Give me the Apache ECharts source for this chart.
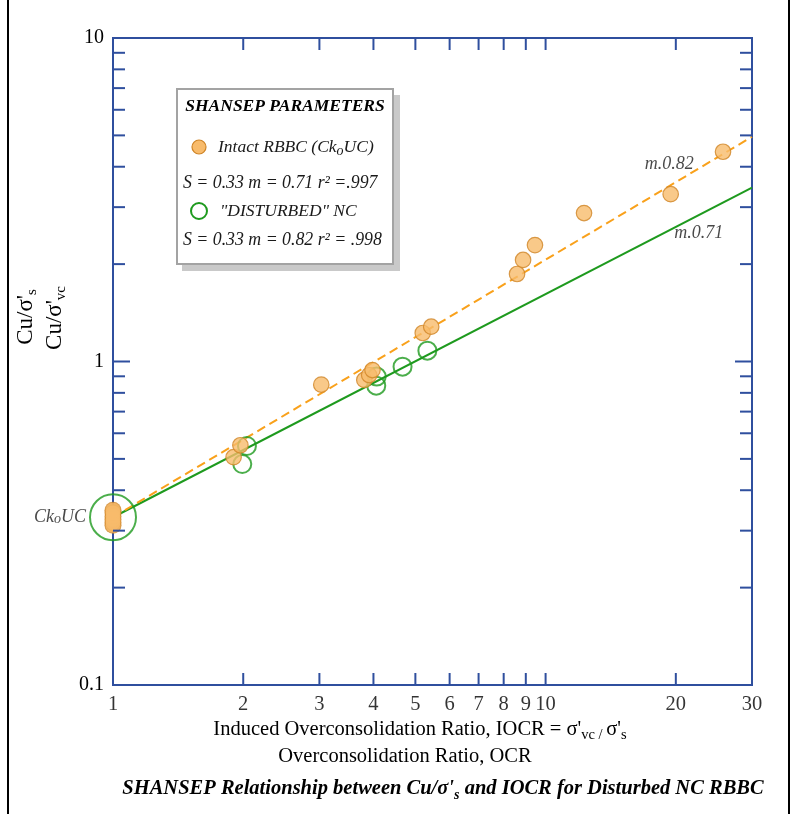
<!DOCTYPE html>
<html><head><meta charset="utf-8">
<script src="https://cdn.jsdelivr.net/npm/echarts@6/dist/echarts.min.js"></script>
<style>html,body{margin:0;padding:0;background:#fff}#c{width:795px;height:814px}</style>
</head><body><div id="c"></div>
<script>
// ---- data ----
const intactIOCR = [1.90, 1.97, 3.03, 3.81, 3.91, 3.98, 5.20, 5.44, 8.59, 8.87, 9.45, 12.27, 19.46, 25.71];
const intactCu   = [0.506, 0.551, 0.848, 0.877, 0.908, 0.941, 1.225, 1.281, 1.864, 2.06, 2.29, 2.877, 3.29, 4.45];
const ckoucIOCR  = [1, 1, 1, 1, 1, 1];
const ckoucCu    = [0.312, 0.318, 0.325, 0.332, 0.340, 0.347];
const disturbedIOCR = [1.99, 2.04, 4.06, 4.07, 4.67, 5.33];
const disturbedCu   = [0.482, 0.548, 0.842, 0.898, 0.964, 1.08];
const ncIOCR = [1];
const ncCu   = [0.33];
const fitIntactIOCR = [1, 30];
const fitIntactCu   = [0.33, 4.95];
const fitDistIOCR   = [1, 30];
const fitDistCu     = [0.33, 3.45];
const annotIOCR  = [19.3, 22.6];
const annotCu    = [4.08, 2.49];
const annotText  = ['m.0.82', 'm.0.71'];
const xMin = 1, xMax = 30, yMin = 0.1, yMax = 10;
const xTickValues  = [2, 3, 4, 5, 6, 7, 8, 9, 10, 20];
const xLabelValues = [1, 2, 3, 4, 5, 6, 7, 8, 9, 10, 20, 30];
const yTickValues  = [0.2, 0.3, 0.4, 0.5, 0.6, 0.7, 0.8, 0.9, 1, 2, 3, 4, 5, 6, 7, 8, 9];
const yMajorTicks  = [1];

// ---- styles ----
const AX = '#2f4f9e';
const SERIF = '"Liberation Serif", "DejaVu Serif", serif';
const ORANGE_FILL = '#F8BB6B', ORANGE_EDGE = '#CF8426', ORANGE_LINE = '#F9A11B';
const GREEN = '#1E9A1E';
const TXT = '#000';

const zip = (a, b) => a.map((v, i) => [v, b[i]]);
const chart = echarts.init(document.getElementById('c'), null, {renderer: 'canvas'});

const subStyle = (size, extra) => Object.assign({fontFamily: SERIF, fontSize: size, lineHeight: size, verticalAlign: 'bottom', fill: TXT, color: TXT}, extra || {});

const option = {
  animation: false,
  backgroundColor: '#fff',
  grid: {left: 113, top: 38, right: 43, bottom: 129, show: true, borderColor: AX, borderWidth: 2,
         backgroundColor: 'transparent', outerBoundsMode: 'none'},
  xAxis: {type: 'log', logBase: 10, min: xMin, max: xMax,
          axisLine: {show: false}, axisTick: {show: false}, axisLabel: {show: false}, splitLine: {show: false}},
  yAxis: {type: 'log', logBase: 10, min: yMin, max: yMax,
          axisLine: {show: false}, axisTick: {show: false}, splitLine: {show: false},
          axisLabel: {show: true, margin: 9, color: TXT, fontFamily: SERIF, fontSize: 20,
                      formatter: v => String(+Number(v).toPrecision(3))}},
  series: [
    { // x ticks (bottom & top, inward)
      type: 'custom', silent: true, z: 6,
      data: xTickValues.map(v => [v, yMin]),
      renderItem: (p, api) => {
        const v = api.value(0);
        const b = api.coord([v, yMin]), t = api.coord([v, yMax]);
        return {type: 'group', children: [
          {type: 'line', shape: {x1: b[0], y1: b[1], x2: b[0], y2: b[1] - 12}, style: {stroke: AX, lineWidth: 2}},
          {type: 'line', shape: {x1: t[0], y1: t[1], x2: t[0], y2: t[1] + 12}, style: {stroke: AX, lineWidth: 2}}
        ]};
      }
    },
    { // y ticks (left & right, inward)
      type: 'custom', silent: true, z: 6,
      data: yTickValues.map(v => [xMin, v]),
      renderItem: (p, api) => {
        const v = api.value(1);
        const len = yMajorTicks.indexOf(v) >= 0 ? 17 : 12;
        const l = api.coord([xMin, v]), r = api.coord([xMax, v]);
        return {type: 'group', children: [
          {type: 'line', shape: {x1: l[0], y1: l[1], x2: l[0] + len, y2: l[1]}, style: {stroke: AX, lineWidth: 2}},
          {type: 'line', shape: {x1: r[0], y1: r[1], x2: r[0] - len, y2: r[1]}, style: {stroke: AX, lineWidth: 2}}
        ]};
      }
    },
    { // x tick labels
      type: 'scatter', silent: true, symbolSize: 0, clip: false,
      data: xLabelValues.map(v => [v, yMin]),
      label: {show: true, position: 'bottom', distance: 9, color: TXT, fontFamily: SERIF, fontSize: 20.5,
              formatter: p => String(p.value[0])}
    },
    { // fit line DISTURBED (solid green)
      type: 'line', name: 'fitDist', data: zip(fitDistIOCR, fitDistCu), showSymbol: false, silent: true, z: 2,
      lineStyle: {color: GREEN, width: 2}
    },
    { // fit line intact (dashed orange)
      type: 'line', name: 'fitIntact', data: zip(fitIntactIOCR, fitIntactCu), showSymbol: false, silent: true, z: 2,
      lineStyle: {color: ORANGE_LINE, width: 2, type: [9, 5]}
    },
    { // big NC circle
      type: 'scatter', name: 'NC', data: zip(ncIOCR, ncCu), symbol: 'circle', symbolSize: 46, z: 3, clip: false,
      itemStyle: {color: 'rgba(0,0,0,0)', borderColor: GREEN, borderWidth: 2},
      label: {show: true, position: 'left', distance: 3, color: '#1a1a1a', fontFamily: SERIF, fontStyle: 'italic', fontSize: 18,
              formatter: 'Ck{sub|o}UC',
              rich: {sub: subStyle(14, {fontStyle: 'italic', color: '#1a1a1a', lineHeight: 13})}}
    },
    { // disturbed circles
      type: 'scatter', name: 'DISTURBED NC', data: zip(disturbedIOCR, disturbedCu), symbol: 'circle', symbolSize: 18, z: 3,
      itemStyle: {color: 'rgba(0,0,0,0)', borderColor: GREEN, borderWidth: 2}
    },
    { // CkoUC blob outline layer
      type: 'scatter', data: zip(ckoucIOCR, ckoucCu), symbol: 'circle', symbolSize: 17, z: 4, clip: false, silent: true,
      itemStyle: {color: ORANGE_EDGE}
    },
    { // CkoUC blob fill layer
      type: 'scatter', data: zip(ckoucIOCR, ckoucCu), symbol: 'circle', symbolSize: 15, z: 4, clip: false, silent: true,
      itemStyle: {color: ORANGE_FILL}
    },
    { // intact points
      type: 'scatter', name: 'Intact RBBC', data: zip(intactIOCR, intactCu), symbol: 'circle', symbolSize: 15.5, z: 4,
      itemStyle: {color: ORANGE_FILL, borderColor: ORANGE_EDGE, borderWidth: 1.2}
    },
    { // slope annotations
      type: 'scatter', data: zip(annotIOCR, annotCu), symbolSize: 0, silent: true, z: 5,
      label: {show: true, position: 'inside', color: '#1a1a1a', fontFamily: SERIF, fontStyle: 'italic', fontSize: 18,
              formatter: p => annotText[p.dataIndex]}
    }
  ],
  graphic: [
    {type: 'line', shape: {x1: 8, y1: 0, x2: 8, y2: 814}, style: {stroke: '#000', lineWidth: 2}},
    {type: 'line', shape: {x1: 789, y1: 0, x2: 789, y2: 814}, style: {stroke: '#000', lineWidth: 2}},
    // y-axis titles
    {type: 'text', x: 26, y: 317, rotation: Math.PI / 2,
     style: {text: "Cu/σ'{sub|s}", fontFamily: SERIF, fontSize: 23, fill: TXT, align: 'center', verticalAlign: 'middle', lineHeight: 28,
             rich: {sub: subStyle(15)}}},
    {type: 'text', x: 55, y: 318, rotation: Math.PI / 2,
     style: {text: "Cu/σ'{sub|vc}", fontFamily: SERIF, fontSize: 23, fill: TXT, align: 'center', verticalAlign: 'middle', lineHeight: 28,
             rich: {sub: subStyle(15)}}},
    // x-axis titles
    {type: 'text', x: 420, y: 730,
     style: {text: "Induced Overconsolidation Ratio, IOCR = σ'{sub|vc / }σ'{sub|s}", fontFamily: SERIF, fontSize: 20.5, fill: TXT,
             align: 'center', verticalAlign: 'middle', lineHeight: 26,
             rich: {sub: subStyle(14.5)}}},
    {type: 'text', x: 405, y: 757,
     style: {text: 'Overconsolidation Ratio, OCR', fontFamily: SERIF, fontSize: 20.5, fill: TXT, align: 'center', verticalAlign: 'middle'}},
    // caption
    {type: 'text', x: 443, y: 789,
     style: {text: "SHANSEP Relationship between Cu/σ'{sub|s} and IOCR for Disturbed NC RBBC", fontFamily: SERIF, fontSize: 20.5,
             fontWeight: 'bold', fontStyle: 'italic', fill: TXT, align: 'center', verticalAlign: 'middle', lineHeight: 26,
             rich: {sub: subStyle(14, {fontWeight: 'bold', fontStyle: 'italic'})}}},
    // legend box
    {type: 'rect', shape: {x: 182, y: 95, width: 218, height: 176}, style: {fill: '#c9c9c9'}},
    {type: 'rect', shape: {x: 177, y: 89, width: 216, height: 175}, style: {fill: '#fff', stroke: '#a3a3a3', lineWidth: 2}},
    {type: 'text', x: 285, y: 106,
     style: {text: 'SHANSEP PARAMETERS', fontFamily: SERIF, fontSize: 17.5, fontWeight: 'bold', fontStyle: 'italic', fill: TXT,
             align: 'center', verticalAlign: 'middle'}},
    {type: 'circle', shape: {cx: 199, cy: 147, r: 7}, style: {fill: ORANGE_FILL, stroke: ORANGE_EDGE, lineWidth: 1.2}},
    {type: 'text', x: 218, y: 147,
     style: {text: 'Intact RBBC (Ck{sub|o}UC)', fontFamily: SERIF, fontSize: 17.5, fontStyle: 'italic', fill: '#1a1a1a',
             align: 'left', verticalAlign: 'middle', lineHeight: 22,
             rich: {sub: subStyle(14, {fontStyle: 'italic', fill: '#1a1a1a', lineHeight: 13})}}},
    {type: 'text', x: 183, y: 183,
     style: {text: 'S = 0.33 m = 0.71 r² =.997', fontFamily: SERIF, fontSize: 17.8, fontStyle: 'italic', fill: '#1a1a1a',
             align: 'left', verticalAlign: 'middle'}},
    {type: 'circle', shape: {cx: 199, cy: 211, r: 8}, style: {fill: 'rgba(0,0,0,0)', stroke: GREEN, lineWidth: 2}},
    {type: 'text', x: 220, y: 211,
     style: {text: '"DISTURBED" NC', fontFamily: SERIF, fontSize: 17.5, fontStyle: 'italic', fill: '#1a1a1a',
             align: 'left', verticalAlign: 'middle'}},
    {type: 'text', x: 183, y: 240,
     style: {text: 'S = 0.33 m = 0.82 r² = .998', fontFamily: SERIF, fontSize: 17.8, fontStyle: 'italic', fill: '#1a1a1a',
             align: 'left', verticalAlign: 'middle'}}
  ]
};
chart.setOption(option);
</script>
</body></html>
